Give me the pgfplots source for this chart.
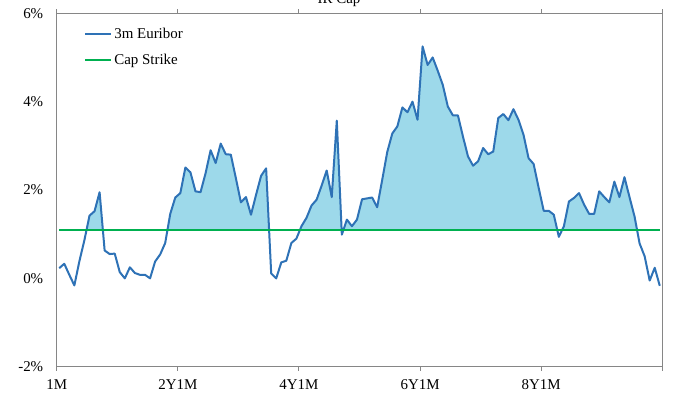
\documentclass[border=0pt]{standalone}
\usepackage{fontspec}
\setmainfont{Liberation Serif}
\usepackage{pgfplots}
\usepackage{pgfplotstable}
\pgfplotsset{compat=1.18}
\definecolor{eurblue}{RGB}{46,114,182}
\definecolor{fillblue}{RGB}{157,217,234}
\definecolor{capgreen}{RGB}{0,176,80}
\definecolor{axgray}{RGB}{134,134,134}

\pgfplotstableread{
m r
1 0.23
2 0.33
3 0.08
4 -0.16
5 0.39
6 0.87
7 1.42
8 1.52
9 1.95
10 0.63
11 0.55
12 0.56
13 0.14
14 0.00
15 0.25
16 0.12
17 0.08
18 0.08
19 0.00
20 0.38
21 0.54
22 0.80
23 1.46
24 1.83
25 1.93
26 2.51
27 2.40
28 1.97
29 1.95
30 2.38
31 2.90
32 2.61
33 3.05
34 2.81
35 2.80
36 2.27
37 1.72
38 1.84
39 1.44
40 1.89
41 2.32
42 2.49
43 0.11
44 0.00
45 0.36
46 0.40
47 0.80
48 0.90
49 1.18
50 1.37
51 1.65
52 1.78
53 2.10
54 2.44
55 1.84
56 3.57
57 0.99
58 1.33
59 1.18
60 1.33
61 1.79
62 1.81
63 1.83
64 1.61
65 2.23
66 2.86
67 3.28
68 3.44
69 3.87
70 3.76
71 4.00
72 3.59
73 5.25
74 4.83
75 5.00
76 4.70
77 4.38
78 3.89
79 3.69
80 3.69
81 3.21
82 2.76
83 2.55
84 2.65
85 2.95
86 2.81
87 2.87
88 3.63
89 3.72
90 3.58
91 3.83
92 3.59
93 3.25
94 2.72
95 2.59
96 2.05
97 1.53
98 1.53
99 1.44
100 0.94
101 1.18
102 1.74
103 1.82
104 1.93
105 1.67
106 1.46
107 1.46
108 1.97
109 1.84
110 1.72
111 2.19
112 1.84
113 2.29
114 1.84
115 1.40
116 0.79
117 0.50
118 -0.05
119 0.24
120 -0.17
}\eurtable

\pgfplotstableread{
m s
1 1.1
120 1.1
}\striketable

\begin{document}
\begin{tikzpicture}
\begin{axis}[
  scale only axis,
  width=605.6bp, height=353.4bp,
  xmin=0.5, xmax=120.5, ymin=-2, ymax=6,
  xtick={0.5,24.5,48.5,72.5,96.5,120.5},
  xticklabels={1M,2Y1M,4Y1M,6Y1M,8Y1M,},
  ytick={-2,0,2,4,6},
  yticklabels={-2\%,0\%,2\%,4\%,6\%},
  axis line style={axgray, line width=0.9bp},
  xtick style={axgray, line width=0.9bp},
  ytick style={draw=none},
  xtick align=outside,
  major tick length=4bp,
  tick label style={font=\fontsize{15}{18}\selectfont},
  yticklabel style={xshift=-10bp},
  xticklabel style={yshift=-5bp},
  legend style={draw=none, fill=none, at={(0.045,0.965)}, anchor=north west,
    font=\fontsize{15}{18}\selectfont, row sep=10bp, inner sep=0pt},
  legend cell align=left,
  legend image code/.code={\draw[#1] (0bp,0bp) -- (26bp,0bp);},
]
\begin{scope}
\clip (axis cs:0.5,1.1) rectangle (axis cs:120.5,6);
\addplot[fill=fillblue, draw=none, forget plot] table[x=m, y=r] {\eurtable} \closedcycle;
\end{scope}
\addplot[eurblue, line width=2bp, line join=round] table[x=m, y=r] {\eurtable};
\addlegendentry{3m Euribor}
\addplot[capgreen, line width=2.2bp] table[x=m, y=s] {\striketable};
\addlegendentry{Cap Strike}
\coordinate (sw) at (rel axis cs:0,0);
\coordinate (ne) at (rel axis cs:1,1);
\end{axis}
\path (sw) ++(282.3bp,362.7bp) node[anchor=base, font=\fontsize{15}{18}\selectfont, inner sep=0pt] {IR Cap};
\pgfresetboundingbox
\path ([shift={(-56.7bp,-34.3bp)}]sw) rectangle ([shift={(28.7bp,13.3bp)}]ne);
\end{tikzpicture}
\end{document}
